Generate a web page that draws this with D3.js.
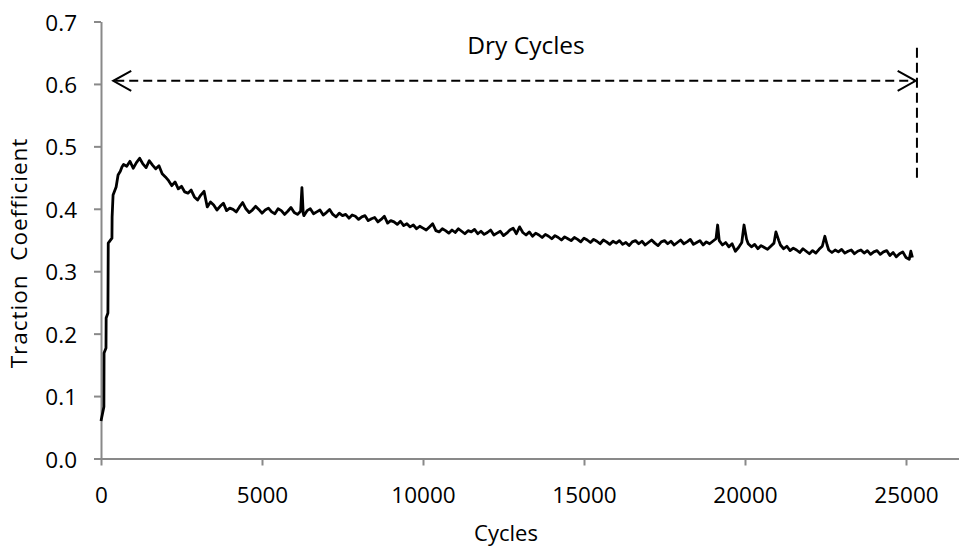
<!DOCTYPE html>
<html>
<head>
<meta charset="utf-8">
<script src="https://cdn.jsdelivr.net/npm/d3@7"></script>
<style>
  body { margin: 0; background: #fff; }
  text { font-family: "Open Sans", "Lato", sans-serif; fill: #000; }
</style>
</head>
<body>
<div id="chart"></div>
<script>
// x tick values and y tick values
const xTicks = [0, 5000, 10000, 15000, 20000, 25000];
const yTicks = [0, 0.1, 0.2, 0.3, 0.4, 0.5, 0.6, 0.7];

// [cycles, traction coefficient]
const traction = [
  [0,0.060],[90,0.083],[95,0.169],[155,0.177],[160,0.225],[215,0.233],[225,0.345],[340,0.353],
  [345,0.387],[375,0.422],[470,0.435],[530,0.454],[600,0.460],[650,0.467],
  [700,0.471],[800,0.468],[900,0.476],[1000,0.465],[1100,0.474],[1200,0.481],[1300,0.472],[1400,0.466],[1500,0.477],[1600,0.470],
  [1700,0.464],[1800,0.469],[1900,0.456],[2000,0.451],[2100,0.445],[2200,0.437],[2300,0.443],[2400,0.432],[2500,0.436],[2600,0.427],
  [2700,0.425],[2800,0.430],[2900,0.419],[3000,0.414],[3100,0.422],[3200,0.428],[3300,0.403],[3400,0.411],[3500,0.406],[3600,0.398],
  [3700,0.404],[3800,0.409],[3900,0.397],[4000,0.401],[4100,0.399],[4200,0.395],[4300,0.403],[4400,0.410],[4500,0.400],[4600,0.394],
  [4700,0.398],[4800,0.404],[4900,0.399],[5000,0.393],[5100,0.398],[5200,0.401],[5300,0.395],[5400,0.392],[5500,0.400],[5600,0.397],
  [5700,0.391],[5800,0.396],[5900,0.402],[6000,0.394],[6100,0.391],[6200,0.396],[6240,0.434],[6280,0.393],[6300,0.389],[6400,0.397],
  [6500,0.400],[6600,0.392],[6700,0.395],[6800,0.398],[6900,0.390],[7000,0.394],[7100,0.399],[7200,0.391],[7300,0.387],[7400,0.393],
  [7500,0.389],[7600,0.391],[7700,0.385],[7800,0.390],[7900,0.388],[8000,0.383],[8100,0.387],[8200,0.389],[8300,0.381],[8400,0.384],
  [8500,0.386],[8600,0.379],[8700,0.383],[8800,0.388],[8900,0.377],[9000,0.381],[9100,0.379],[9200,0.375],[9300,0.380],[9400,0.373],
  [9500,0.376],[9600,0.371],[9700,0.374],[9800,0.368],[9900,0.372],[10000,0.369],[10100,0.366],[10200,0.371],[10300,0.376],[10400,0.365],
  [10500,0.363],[10600,0.368],[10700,0.365],[10800,0.361],[10900,0.366],[11000,0.362],[11100,0.368],[11200,0.364],[11300,0.360],[11400,0.365],
  [11500,0.363],[11600,0.367],[11700,0.360],[11800,0.364],[11900,0.359],[12000,0.362],[12100,0.366],[12200,0.358],[12300,0.361],[12400,0.364],
  [12500,0.357],[12600,0.361],[12700,0.366],[12800,0.369],[12900,0.360],[13000,0.371],[13100,0.362],[13200,0.358],[13300,0.363],[13400,0.356],
  [13500,0.361],[13600,0.358],[13700,0.354],[13800,0.359],[13900,0.356],[14000,0.352],[14100,0.357],[14200,0.354],[14300,0.350],[14400,0.355],
  [14500,0.352],[14600,0.349],[14700,0.354],[14800,0.351],[14900,0.347],[15000,0.353],[15100,0.350],[15200,0.346],[15300,0.351],[15400,0.348],
  [15500,0.344],[15600,0.350],[15700,0.347],[15800,0.343],[15900,0.348],[16000,0.345],[16100,0.349],[16200,0.343],[16300,0.346],[16400,0.341],
  [16500,0.347],[16600,0.349],[16700,0.344],[16800,0.348],[16900,0.342],[17000,0.346],[17100,0.350],[17200,0.345],[17300,0.341],[17400,0.347],
  [17500,0.349],[17600,0.344],[17700,0.348],[17800,0.342],[17900,0.346],[18000,0.350],[18100,0.344],[18200,0.347],[18300,0.351],[18400,0.343],
  [18500,0.346],[18600,0.349],[18700,0.342],[18800,0.347],[18900,0.344],[19000,0.348],[19100,0.352],[19150,0.374],[19200,0.349],[19300,0.342],
  [19400,0.346],[19500,0.339],[19600,0.344],[19700,0.332],[19800,0.338],[19900,0.346],[19970,0.374],[20050,0.351],[20100,0.344],[20200,0.339],
  [20300,0.343],[20400,0.336],[20500,0.341],[20600,0.338],[20700,0.335],[20800,0.340],[20900,0.345],[20960,0.363],[21050,0.349],[21100,0.342],
  [21200,0.336],[21300,0.340],[21400,0.333],[21500,0.337],[21600,0.334],[21700,0.330],[21800,0.336],[21900,0.332],[22000,0.328],[22100,0.333],
  [22200,0.329],[22300,0.335],[22400,0.340],[22480,0.356],[22550,0.342],[22600,0.334],[22700,0.330],[22800,0.334],[22900,0.331],[23000,0.335],
  [23100,0.329],[23200,0.332],[23300,0.334],[23400,0.328],[23500,0.332],[23600,0.334],[23700,0.329],[23800,0.333],[23900,0.327],[24000,0.331],
  [24100,0.333],[24200,0.327],[24300,0.331],[24400,0.333],[24500,0.325],[24600,0.330],[24700,0.323],[24800,0.328],[24900,0.331],[25000,0.322],
  [25100,0.319],[25150,0.332],[25200,0.322]
];

// annotation: arrow span, arrow level, divider line
const arrowSpan = [380, 25300];
const arrowLevel = 0.605;
const dividerX = 25340;
const dividerRange = [0.658, 0.445];
const annotationLabel = { text: "Dry Cycles", x: 13200, y: 0.648 };

const width = 959, height = 546;

const svg = d3.select("#chart")
    .append("svg")
    .attr("width", width)
    .attr("height", height);

const xScale = d3.scaleLinear().domain([0, 30000]).range([101, 1067]);
const yScale = d3.scaleLinear().domain([0, 0.7]).range([458.5, 21.5]);

const axisColor = "#898989";

// x axis
const xAxis = svg.append("g")
    .attr("transform", `translate(0,${yScale(0)})`)
    .call(d3.axisBottom(xScale).tickValues(xTicks).tickSize(7).tickSizeOuter(0).tickFormat(d3.format("d")));

// y axis
const yAxis = svg.append("g")
    .attr("transform", `translate(${xScale(0)},0)`)
    .call(d3.axisLeft(yScale).tickValues(yTicks).tickSize(7).tickSizeOuter(0).tickFormat(d3.format(".1f")));

[xAxis, yAxis].forEach(g => {
    g.select(".domain").attr("stroke", axisColor).attr("stroke-width", 2);
    g.selectAll(".tick line").attr("stroke", axisColor).attr("stroke-width", 2);
    g.selectAll(".tick text").style("font-size", "22.5px").attr("fill", "#000");
});
xAxis.selectAll(".tick text").attr("y", 44).attr("dy", 0);
yAxis.selectAll(".tick text").attr("x", -24).attr("dy", "0.38em");

// traction line
const line = d3.line()
    .x(d => xScale(d[0]))
    .y(d => yScale(d[1]));

svg.append("path")
    .datum(traction)
    .attr("fill", "none")
    .attr("stroke", "#000")
    .attr("stroke-width", 2.8)
    .attr("stroke-linejoin", "round")
    .attr("d", line);

// dashed arrow
const ay = yScale(arrowLevel);
const ax0 = xScale(arrowSpan[0]), ax1 = xScale(arrowSpan[1]);
svg.append("line")
    .attr("x1", ax0 + 2).attr("x2", ax1 - 2)
    .attr("y1", ay).attr("y2", ay)
    .attr("stroke", "#000").attr("stroke-width", 2)
    .attr("stroke-dasharray", "9,5");

svg.append("path")
    .attr("d", `M${ax0 + 18},${ay - 10}L${ax0},${ay}L${ax0 + 18},${ay + 10}`)
    .attr("fill", "none").attr("stroke", "#000").attr("stroke-width", 2);
svg.append("path")
    .attr("d", `M${ax1 - 18},${ay - 10}L${ax1},${ay}L${ax1 - 18},${ay + 10}`)
    .attr("fill", "none").attr("stroke", "#000").attr("stroke-width", 2);

// vertical divider
svg.append("line")
    .attr("x1", xScale(dividerX)).attr("x2", xScale(dividerX))
    .attr("y1", yScale(dividerRange[0])).attr("y2", yScale(dividerRange[1]))
    .attr("stroke", "#000").attr("stroke-width", 2)
    .attr("stroke-dasharray", "10,5");

svg.append("text")
    .attr("x", xScale(annotationLabel.x))
    .attr("y", yScale(annotationLabel.y))
    .attr("text-anchor", "middle")
    .style("font-size", "24.5px")
    .text(annotationLabel.text);

// axis titles
svg.append("text")
    .attr("x", 506)
    .attr("y", 541)
    .attr("text-anchor", "middle")
    .style("font-size", "22px")
    .text("Cycles");

svg.append("text")
    .attr("transform", "translate(27,253) rotate(-90)")
    .attr("text-anchor", "middle")
    .style("font-size", "22.5px")
    .style("letter-spacing", "1px")
    .style("white-space", "pre")
    .attr("xml:space", "preserve")
    .text("Traction  Coefficient");
</script>
</body>
</html>
